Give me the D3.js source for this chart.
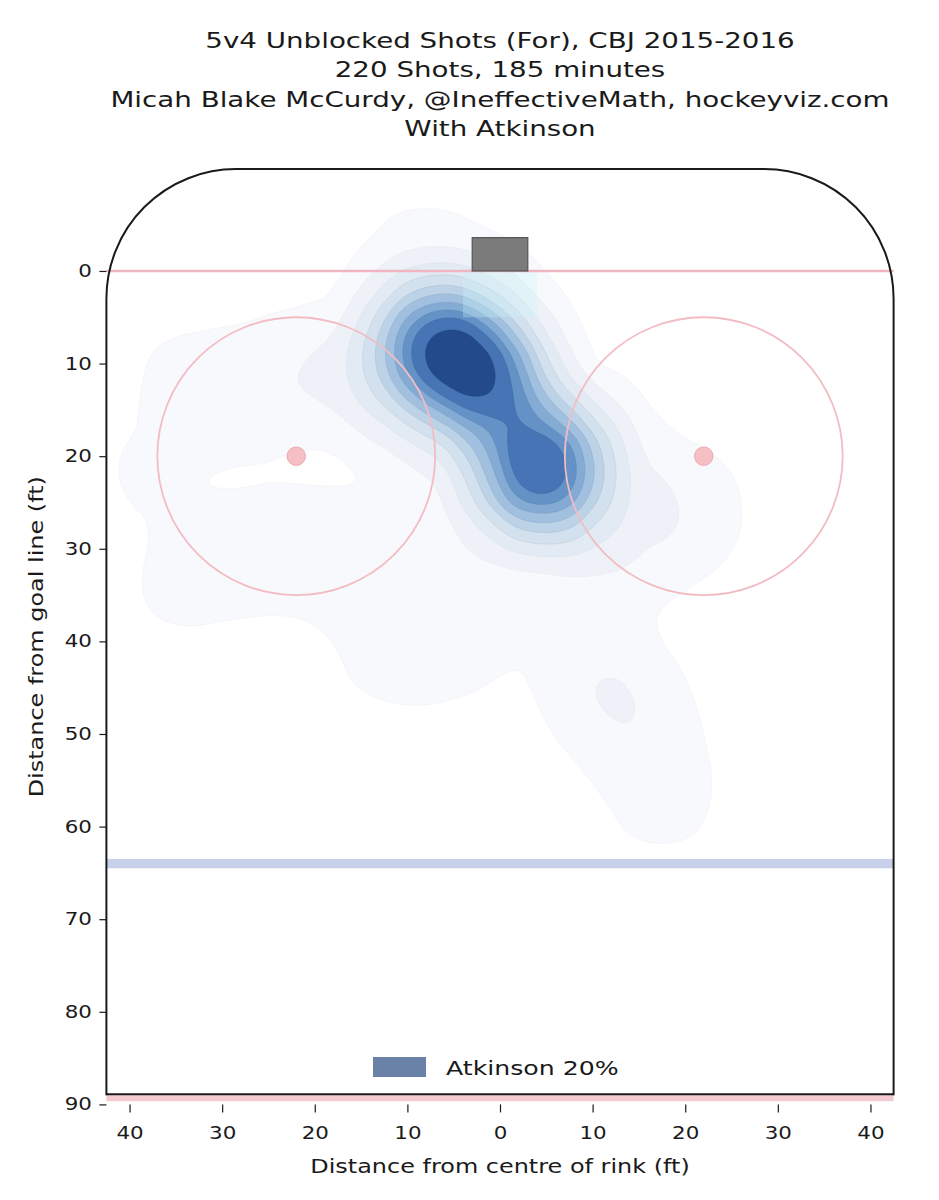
<!DOCTYPE html>
<html>
<head>
<meta charset="utf-8">
<script src="https://cdn.jsdelivr.net/npm/d3@7"></script>
<style>
  body { margin: 0; background: #fff; }
  text { font-family: "DejaVu Sans", sans-serif; fill: #1a1a1a; }
</style>
</head>
<body>
<svg id="chart" width="939" height="1200"></svg>
<script>
// title lines
const titleLines = [
  "5v4 Unblocked Shots (For), CBJ 2015-2016",
  "220 Shots, 185 minutes",
  "Micah Blake McCurdy, @IneffectiveMath, hockeyviz.com",
  "With Atkinson"
];
const xTicks = [-40, -30, -20, -10, 0, 10, 20, 30, 40];
const yTicks = [0, 10, 20, 30, 40, 50, 60, 70, 80, 90];

// shot clusters (ft from centre, ft from goal line, shot weight)
const shotX = [-7, -4, -0.5, 4.5, 2, -12, -8, -2, 8, 5, -1, -8,
  -21, -28, -34, -22, -30, -15, -10, -3, -12, -5,
  15, 21, 16, 10, 10, 13, 15.5, 17.5, -8, -38, -36];
const shotY = [8, 10, 12.5, 21.5, 17.5, 11, 4, 5, 19, 26, 22, 17,
  11, 14, 12, 30, 31, 31, 33, 35, 41, 41,
  24, 26, 30, 31, 43, 47, 50, 57, -3, 22, 35];
const shotW = [12, 8, 12, 16, 1.5, 3, 2, 2, 2.5, 2.5, 2, 1.5,
  1.1, 0.8, 0.5, 0.9, 0.7, 0.7, 0.8, 0.7, 0.6, 0.5,
  1.1, 0.6, 0.5, 0.9, 0.8, 0.8, 0.5, 0.6, 0.4, 0.4, 0.3];

// contour levels as share of peak density, and their fills
const levelShare = [0.012, 0.055, 0.12, 0.2, 0.29, 0.38, 0.48, 0.58, 0.68, 0.82];
const levelFill = ["#f7f9fc", "#eef2f8", "#e2eaf3", "#d3e1ee", "#bcd2e7",
  "#a1c0df", "#84abd4", "#6492c6", "#4674b4", "#234b8c"];

const legendLabel = "Atkinson 20%";
const stretch = 1.26;

const svg = d3.select("#chart");
const x = d3.scaleLinear().domain([-42.5, 42.5]).range([106.4, 893.6]);
const y = d3.scaleLinear().domain([-11, 90]).range([169.1, 1104.4]);
const ft = x(1) - x(0);

// title
svg.append("g").selectAll("text")
  .data(titleLines)
  .enter().append("text")
  .attr("transform", (d, i) => "translate(500," + (48 + i * 29.3) + ") scale(" + stretch + ",1)")
  .attr("text-anchor", "middle")
  .style("font-size", "22px")
  .text(d => d);

// rink outline path (rounded top corners)
const R = 14;
const rinkPath = d3.path();
rinkPath.moveTo(x(-42.5), y(89));
rinkPath.lineTo(x(-42.5), y(-11 + R));
rinkPath.arcTo(x(-42.5), y(-11), x(-42.5 + R), y(-11), R * ft);
rinkPath.lineTo(x(42.5 - R), y(-11));
rinkPath.arcTo(x(42.5), y(-11), x(42.5), y(-11 + R), R * ft);
rinkPath.lineTo(x(42.5), y(89));

svg.append("clipPath").attr("id", "rink")
  .append("path").attr("d", rinkPath.toString() + "Z");

// density contours
const pts = shotX.map((d, i) => ({ x: d, y: shotY[i], w: shotW[i] }));
const dens = d3.contourDensity()
  .x(d => x(d.x))
  .y(d => y(d.y))
  .weight(d => d.w)
  .size([939, 1200])
  .cellSize(2)
  .bandwidth(4 * ft)
  .contours(pts);

const shapes = levelShare.map(s => dens(s * dens.max));
svg.append("g").attr("clip-path", "url(#rink)")
  .selectAll("path")
  .data(shapes)
  .enter().append("path")
  .attr("d", d3.geoPath())
  .attr("fill", (d, i) => levelFill[i])
  .attr("stroke", (d, i) => d3.color(levelFill[i]).darker(0.35))
  .attr("stroke-opacity", (d, i) => i < 3 ? 0.25 : 0.6)
  .attr("stroke-width", 0.8);

// crease tint
svg.append("rect")
  .attr("x", x(-4)).attr("y", y(0))
  .attr("width", x(4) - x(-4)).attr("height", y(5) - y(0))
  .attr("fill", "#c8f4f8").attr("opacity", 0.3);

// goal line
svg.append("line")
  .attr("x1", x(-42.5)).attr("x2", x(42.5))
  .attr("y1", y(0)).attr("y2", y(0))
  .attr("stroke", "#efb6c2").attr("stroke-width", 2.6);

// faceoff circles and dots
[-22, 22].forEach(cx => {
  svg.append("circle")
    .attr("cx", x(cx)).attr("cy", y(20)).attr("r", 15 * ft)
    .attr("fill", "none").attr("stroke", "#f2bcc2").attr("stroke-width", 1.8);
  svg.append("circle")
    .attr("cx", x(cx)).attr("cy", y(20)).attr("r", 1 * ft)
    .attr("fill", "#f5bfc3").attr("stroke", "#eeaab0").attr("stroke-width", 1);
});

// blue line
svg.append("rect")
  .attr("x", x(-42.5)).attr("y", y(63.5))
  .attr("width", x(42.5) - x(-42.5)).attr("height", y(64.5) - y(63.5))
  .attr("fill", "#c8d0ec");

// centre red line
svg.append("rect")
  .attr("x", x(-42.5)).attr("y", y(89))
  .attr("width", x(42.5) - x(-42.5)).attr("height", 6)
  .attr("fill", "#f2cad0");

// net
svg.append("rect")
  .attr("x", x(-3)).attr("y", y(-3.6))
  .attr("width", x(3) - x(-3)).attr("height", y(0) - y(-3.6))
  .attr("fill", "#7b7b7b").attr("stroke", "#555").attr("stroke-width", 1.2);

// boards
svg.append("path")
  .attr("d", rinkPath.toString())
  .attr("fill", "none").attr("stroke", "#1a1a1a").attr("stroke-width", 2);
svg.append("line")
  .attr("x1", x(-42.5)).attr("x2", x(42.5))
  .attr("y1", y(89) - 1).attr("y2", y(89) - 1)
  .attr("stroke", "#1a1a1a").attr("stroke-width", 2);

// axes
const xAxis = svg.append("g")
  .attr("transform", "translate(0," + y(90) + ")")
  .call(d3.axisBottom(x).tickValues(xTicks).tickFormat(d => Math.abs(d)).tickSize(8).tickPadding(15));
const yAxis = svg.append("g")
  .attr("transform", "translate(" + x(-42.5) + ",0)")
  .call(d3.axisLeft(y).tickValues(yTicks).tickSize(7).tickPadding(6));
[xAxis, yAxis].forEach(g => {
  g.select(".domain").remove();
  g.selectAll("line").attr("stroke", "#1a1a1a").attr("stroke-width", 1.2);
  g.selectAll("text").style("font-size", "17px").style("font-family", "DejaVu Sans")
    .attr("fill", "#1a1a1a");
});
xAxis.selectAll("text").attr("transform", "scale(" + stretch + ",1)");
yAxis.selectAll("text").attr("x", -11.5).attr("transform", "scale(" + stretch + ",1)");

svg.append("text")
  .attr("transform", "translate(500,1173) scale(" + stretch + ",1)")
  .attr("text-anchor", "middle")
  .style("font-size", "19px")
  .text("Distance from centre of rink (ft)");
svg.append("text")
  .attr("transform", "translate(43," + (y(-11) + y(90)) / 2 + ") rotate(-90) scale(" + stretch + ",1)")
  .attr("text-anchor", "middle")
  .style("font-size", "19px")
  .text("Distance from goal line (ft)");

// legend
svg.append("rect")
  .attr("x", 373).attr("y", 1057).attr("width", 53).attr("height", 20)
  .attr("fill", "#6a81a8");
svg.append("text")
  .attr("transform", "translate(446,1075) scale(" + stretch + ",1)")
  .style("font-size", "20px")
  .text(legendLabel);
</script>
</body>
</html>
